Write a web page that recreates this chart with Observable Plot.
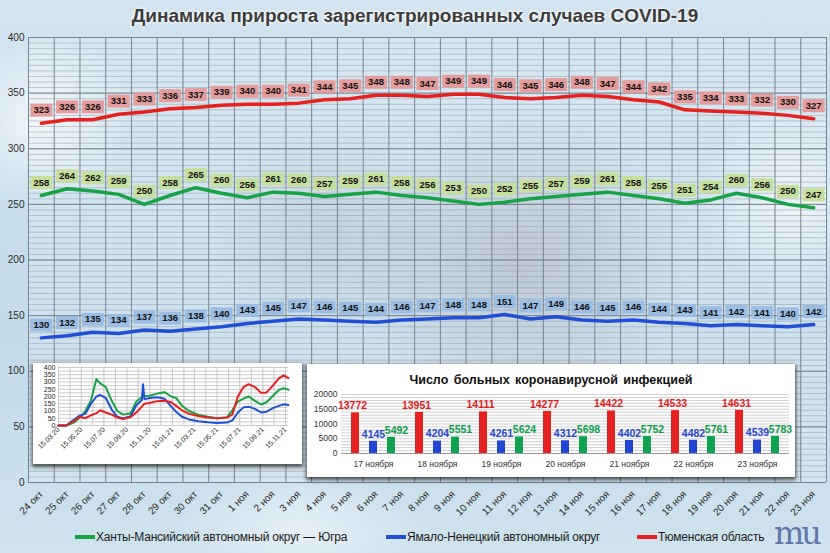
<!DOCTYPE html>
<html>
<head>
<meta charset="utf-8">
<script src="https://cdn.jsdelivr.net/npm/d3@7"></script>
<script src="https://cdn.jsdelivr.net/npm/@observablehq/plot@0.6"></script>
<style>
  body { margin: 0; }
  #wrap {
    position: relative; width: 830px; height: 553px; overflow: hidden;
    font-family: "Liberation Sans", "DejaVu Sans", sans-serif;
    background:
      radial-gradient(ellipse 170px 150px at 520px 260px, rgba(150,150,160,0.45), rgba(150,150,160,0) 100%),
      radial-gradient(ellipse 120px 110px at 330px 230px, rgba(160,165,175,0.35), rgba(160,165,175,0) 100%),
      radial-gradient(ellipse 90px 90px at 40px 120px, rgba(255,255,255,0.7), rgba(255,255,255,0) 100%),
      radial-gradient(ellipse 90px 100px at 790px 200px, rgba(255,255,255,0.6), rgba(255,255,255,0) 100%),
      radial-gradient(ellipse 120px 60px at 300px 530px, rgba(255,255,255,0.5), rgba(255,255,255,0) 100%),
      linear-gradient(180deg, #d2e4ef 0%, #c4dbea 60%, #cfe2ee 100%);
  }
  #title {
    position: absolute; left: 0; top: 5px; width: 830px; text-align: center;
    font: bold 19px "Liberation Sans", sans-serif; color: #3c3c3c;
    text-shadow: 0 0 3px #fff, 0 0 3px #fff;
  }
  #main { position: absolute; left: 0; top: 0; }
  .box { position: absolute; background: #fff; box-shadow: 0 2px 4px 1px rgba(0,0,0,0.65); }
  #inset1 { left: 33px; top: 363px; width: 269px; height: 101px; }
  #inset2 { left: 307px; top: 364px; width: 488px; height: 113px; }
  #inset2 .ttl { height: 26px; text-align: center; font: bold 12.5px "Liberation Sans", sans-serif;
    line-height: 32px; color: #111; word-spacing: 2px; }
  #legend { position: absolute; left: 0; top: 530px; width: 830px; height: 18px;
    font: 12px "Liberation Sans", sans-serif; letter-spacing: -0.2px; color: #1a1a1a; }
  #legend span.item { position: absolute; top: 0; white-space: nowrap; }
  #legend i { display: inline-block; width: 20px; height: 4px; vertical-align: middle; margin-right: 1px; position: relative; top: -1px; }
  #logo { position: absolute; left: 774px; top: 514px; font: 32px "DejaVu Serif", serif; color: #4a5a9a; letter-spacing: -3px; opacity: 0.8; }
</style>
</head>
<body>
<div id="wrap">
  <div id="main"></div>
  <div id="title">Динамика прироста зарегистрированных случаев COVID-19</div>
  <div id="inset1" class="box"></div>
  <div id="inset2" class="box"><div class="ttl">Число больных  коронавирусной  инфекцией</div></div>
  <div id="legend"></div>
  <div id="logo">mu</div>
</div>
<script>
// основной график: прирост за сутки
const days = ["24 окт","25 окт","26 окт","27 окт","28 окт","29 окт","30 окт","31 окт",
  "1 ноя","2 ноя","3 ноя","4 ноя","5 ноя","6 ноя","7 ноя","8 ноя","9 ноя","10 ноя","11 ноя",
  "12 ноя","13 ноя","14 ноя","15 ноя","16 ноя","17 ноя","18 ноя","19 ноя","20 ноя","21 ноя","22 ноя","23 ноя"]
const tyumen = [323,326,326,331,333,336,337,339,340,340,341,344,345,348,348,347,349,349,346,345,346,348,347,344,342,335,334,333,332,330,327]
const khmao = [258,264,262,259,250,258,265,260,256,261,260,257,259,261,258,256,253,250,252,255,257,259,261,258,255,251,254,260,256,250,247]
const yanao = [130,132,135,134,137,136,138,140,143,145,147,146,145,144,146,147,148,148,151,147,149,146,145,146,144,143,141,142,141,140,142]

const names = ["Ханты-Мансийский автономный округ — Югра", "Ямало-Ненецкий автономный округ", "Тюменская область"]
const lineColors = ["#17a345", "#1f4fd6", "#e6201f"]
const boxColors = ["#c6df9f", "#9bbde4", "#e59c9c"]

// маленький график: вся пандемия
const insetDates = ["2020-03-15","2020-04-05","2020-04-25","2020-05-12","2020-05-26","2020-06-10","2020-06-25",
  "2020-07-05","2020-07-20","2020-08-05","2020-08-20","2020-09-05","2020-09-25","2020-10-10","2020-10-25",
  "2020-10-28","2020-11-01","2020-11-15","2020-12-05","2020-12-25","2021-01-12","2021-01-25","2021-02-10",
  "2021-03-01","2021-03-25","2021-04-20","2021-05-15","2021-06-10","2021-06-25","2021-07-10","2021-07-25",
  "2021-08-08","2021-08-25","2021-09-10","2021-09-25","2021-10-12","2021-10-28","2021-11-10","2021-11-23"]
const insetKhmao = [0,0,20,55,100,170,320,290,265,170,100,75,85,165,195,200,202,205,220,230,200,190,135,100,75,60,50,55,105,165,185,200,170,145,160,205,245,258,247]
const insetYanao = [0,0,40,70,80,150,200,210,190,110,60,48,65,140,175,285,182,190,195,185,130,95,60,42,30,22,18,20,35,90,125,130,115,90,95,120,135,146,142]
const insetTyumen = [0,0,30,60,50,70,85,105,90,75,55,45,58,90,130,140,150,155,168,170,160,135,105,80,65,55,50,55,75,200,265,285,265,225,228,275,325,345,327]
const insetTicks = ["2020-03-15","2020-05-15","2020-07-15","2020-09-15","2020-11-15","2021-01-15",
  "2021-03-15","2021-05-15","2021-07-15","2021-09-15","2021-11-15"]

// столбики: число больных
const barDays = ["17 ноября","18 ноября","19 ноября","20 ноября","21 ноября","22 ноября","23 ноября"]
const barTyumen = [13772,13951,14111,14277,14422,14533,14631]
const barYanao = [4145,4204,4261,4312,4402,4482,4539]
const barKhmao = [5492,5551,5624,5698,5752,5761,5783]

// ---------- основной график ----------
const allSeries = [khmao, yanao, tyumen]
const rows = allSeries.flatMap((vals, k) => vals.map((v, i) => ({i, v, k, line: lineColors[k], box: boxColors[k]})))
const labelBox = {draw(ctx) { ctx.rect(-11, -6.5, 22, 13) }}

const chart = Plot.plot({
  width: 830, height: 520,
  marginTop: 37, marginBottom: 38, marginLeft: 28, marginRight: 4,
  style: {background: "transparent", fontFamily: "Liberation Sans, sans-serif", fontSize: "10px", color: "#2a2a2a"},
  color: {type: "identity"},
  x: {domain: [-0.5, days.length - 0.5], ticks: d3.range(days.length), tickFormat: i => days[i],
      tickRotate: -45, tickSize: 0, tickPadding: 10, label: null},
  y: {domain: [0, 400], ticks: d3.range(0, 401, 50), tickSize: 0, tickPadding: 4, label: null},
  marks: [
    Plot.frame({fill: "white", fillOpacity: 0.18, stroke: "none"}),
    Plot.ruleY(d3.range(0, 401, 5), {stroke: "#8c98a3", strokeWidth: 0.6, strokeOpacity: 0.8}),
    Plot.ruleY(d3.range(0, 401, 50), {stroke: "#77838e", strokeWidth: 1}),
    Plot.ruleX(d3.range(-0.5, days.length), {stroke: "#78848f", strokeWidth: 1}),
    Plot.line(rows, {x: "i", y: "v", z: "k", stroke: "line", strokeWidth: 3.5}),
    Plot.dot(rows, {x: "i", y: "v", dy: -13, symbol: labelBox, fill: "box", stroke: "none"}),
    Plot.text(rows, {x: "i", y: "v", dy: -13, text: "v", fill: "#111", fontWeight: "bold", fontSize: 9.5})
  ]
})
d3.select('#main').append(() => chart)

// ---------- вставка 1 ----------
const parse = d3.utcParse("%Y-%m-%d")
const insetRows = [insetKhmao, insetYanao, insetTyumen].flatMap((vals, k) =>
  vals.map((v, i) => ({date: parse(insetDates[i]), v, k, line: lineColors[k]})))
const gridMonths = d3.range(0, 21).map(m => d3.utcMonth.offset(parse("2020-03-15"), m))

const inset = Plot.plot({
  width: 269, height: 101,
  marginTop: 4, marginBottom: 39, marginLeft: 25, marginRight: 14,
  style: {background: "white", fontFamily: "Liberation Sans, sans-serif", fontSize: "7px", color: "#222"},
  color: {type: "identity"},
  x: {type: "utc", domain: [parse("2020-03-15"), parse("2021-11-23")], ticks: insetTicks.map(parse),
      tickFormat: d3.utcFormat("%d.%m.%y"), tickRotate: -45, tickSize: 0, tickPadding: 3, label: null},
  y: {domain: [0, 400], ticks: d3.range(0, 401, 50), tickSize: 0, tickPadding: 3, label: null},
  marks: [
    Plot.ruleY(d3.range(0, 401, 25), {stroke: "#b4b4b4", strokeWidth: 0.7}),
    Plot.ruleX(gridMonths, {stroke: "#b4b4b4", strokeWidth: 0.7}),
    Plot.line(insetRows, {x: "date", y: "v", z: "k", stroke: "line", strokeWidth: 2})
  ]
})
d3.select('#inset1').append(() => inset)

// ---------- вставка 2 ----------
const barKeys = ["t", "y", "k"]
const barColors = {t: "#e52222", y: "#2146d4", k: "#10a34f"}
const barText = {t: "#e02020", y: "#2447d0", k: "#0f9e4c"}
const barRows = [barTyumen, barYanao, barKhmao].flatMap((vals, k) =>
  vals.map((v, i) => ({day: barDays[i], s: barKeys[k], v})))

const bars = Plot.plot({
  width: 488, height: 87,
  marginTop: 4, marginBottom: 24, marginLeft: 33, marginRight: 6,
  style: {background: "white", fontFamily: "Liberation Sans, sans-serif", fontSize: "8.5px", color: "#333"},
  facet: {data: barRows, x: "day"},
  fx: {domain: barDays, padding: 0, label: null, tickSize: 0, tickPadding: 7, axis: "bottom"},
  x: {domain: barKeys, padding: 0.53, axis: null},
  y: {domain: [0, 20000], ticks: d3.range(0, 20001, 5000), tickFormat: d => String(d), tickSize: 0, tickPadding: 4, label: null},
  color: {type: "identity"},
  marks: [
    Plot.ruleY(d3.range(0, 20001, 1000), {stroke: "#c4c4c4", strokeWidth: 0.8, facet: false}),
    Plot.ruleY([0], {stroke: "#999", facet: false}),
    Plot.barY(barRows, {x: "s", y: "v", fill: d => barColors[d.s]}),
    Plot.text(barRows, {filter: d => d.s === "t", x: "s", y: "v", text: d => String(d.v), dy: -7, dx: -3,
      fill: barText.t, fontWeight: "bold", fontSize: 10.5}),
    Plot.text(barRows, {filter: d => d.s === "y", x: "s", y: "v", text: d => String(d.v), dy: -7,
      fill: barText.y, fontWeight: "bold", fontSize: 10.5}),
    Plot.text(barRows, {filter: d => d.s === "k", x: "s", y: "v", text: d => String(d.v), dy: -7, dx: 5,
      fill: barText.k, fontWeight: "bold", fontSize: 10.5})
  ]
})
d3.select('#inset2').append(() => bars)

// ---------- легенда ----------
const legendX = [75, 386, 637]
const legend = d3.select('#legend')
names.forEach((n, k) => {
  const item = legend.append('span').attr('class', 'item').style('left', legendX[k] + 'px')
  item.append('i').style('background', lineColors[k])
  item.append('span').text(n)
})
</script>
</body>
</html>
